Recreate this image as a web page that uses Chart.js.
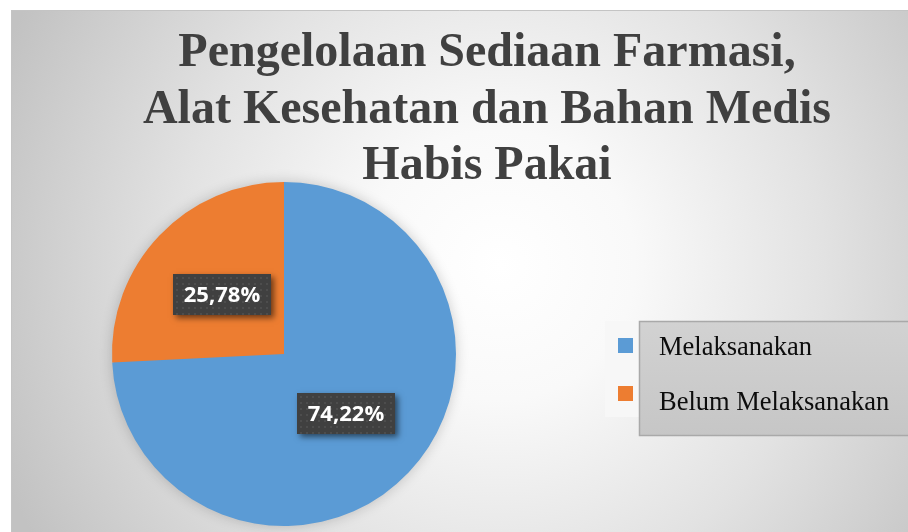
<!DOCTYPE html>
<html>
<head>
<meta charset="utf-8">
<script src="https://cdn.jsdelivr.net/npm/chart.js@4.4.1/dist/chart.umd.min.js"></script>
<style>
  html, body { margin: 0; padding: 0; background: #ffffff; overflow: hidden; }
  #c { display: block; }
</style>
</head>
<body>
<canvas id="c" width="908" height="532"></canvas>
<script>
const titleLines = ['Pengelolaan Sediaan Farmasi,', 'Alat Kesehatan dan Bahan Medis', 'Habis Pakai'];
const categories = ['Melaksanakan', 'Belum Melaksanakan'];
const values = [74.22, 25.78];
const colors = ['#5B9BD5', '#ED7D31'];

const backgroundPlugin = {
  id: 'bg',
  beforeDraw(chart) {
    const ctx = chart.ctx;
    ctx.save();
    ctx.fillStyle = '#ffffff';
    ctx.fillRect(0, 0, chart.width, chart.height);
    const g = ctx.createRadialGradient(500, 265, 0, 500, 265, 540);
    g.addColorStop(0, '#ffffff');
    g.addColorStop(0.25, '#f9f9f9');
    g.addColorStop(0.6, '#e2e2e2');
    g.addColorStop(1, '#c2c2c2');
    ctx.fillStyle = g;
    ctx.fillRect(11, 10, chart.width - 11, chart.height - 10);
    ctx.strokeStyle = '#c4c4c4';
    ctx.lineWidth = 1;
    ctx.beginPath();
    ctx.moveTo(11.5, chart.height);
    ctx.lineTo(11.5, 10.5);
    ctx.lineTo(chart.width, 10.5);
    ctx.stroke();
    // title
    ctx.fillStyle = '#404040';
    ctx.font = 'bold 48px "Liberation Serif", "Times New Roman", serif';
    ctx.textAlign = 'center';
    ctx.textBaseline = 'alphabetic';
    const baselines = [66, 123, 179];
    titleLines.forEach((t, i) => ctx.fillText(t, 487, baselines[i]));
    ctx.restore();
  },
  beforeDatasetsDraw(chart) {
    const arc = chart.getDatasetMeta(0).data[0];
    if (!arc) return;
    const ctx = chart.ctx;
    ctx.save();
    ctx.shadowColor = 'rgba(0,0,0,0.22)';
    ctx.shadowBlur = 14;
    ctx.fillStyle = '#5B9BD5';
    ctx.beginPath();
    ctx.arc(arc.x, arc.y, arc.outerRadius - 1, 0, Math.PI * 2);
    ctx.fill();
    ctx.restore();
  }
};

const labelPlugin = {
  id: 'pctLabels',
  afterDatasetsDraw(chart) {
    const ctx = chart.ctx;
    const meta = chart.getDatasetMeta(0);
    const vals = chart.data.datasets[0].data;
    meta.data.forEach((el, i) => {
      const p = el.tooltipPosition();
      const w = 98, h = 41;
      const x0 = Math.round(p.x - w / 2), y0 = Math.round(p.y - h / 2);
      ctx.save();
      ctx.shadowColor = 'rgba(0,0,0,0.55)';
      ctx.shadowBlur = 6;
      ctx.shadowOffsetX = 3;
      ctx.shadowOffsetY = 3;
      ctx.fillStyle = '#404040';
      ctx.fillRect(x0, y0, w, h);
      ctx.restore();
      ctx.save();
      ctx.fillStyle = '#4d4d4d';
      for (let yy = y0 + 3; yy < y0 + h - 1; yy += 6) {
        for (let xx = x0 + 3; xx < x0 + w - 1; xx += 6) {
          ctx.fillRect(xx, yy, 2, 2);
        }
      }
      ctx.fillStyle = '#ffffff';
      ctx.font = 'bold 22px "Open Sans", "DejaVu Sans", sans-serif';
      ctx.textAlign = 'center';
      ctx.textBaseline = 'middle';
      const txt = vals[i].toFixed(2).replace('.', ',') + '%';
      ctx.fillText(txt, x0 + w / 2, y0 + h / 2 + 1);
      ctx.restore();
    });
  }
};

const legendPlugin = {
  id: 'customLegend',
  afterDraw(chart) {
    const ctx = chart.ctx;
    ctx.save();
    ctx.fillStyle = '#f7f7f7';
    ctx.fillRect(605, 321, 36, 96);
    const g = ctx.createLinearGradient(0, 321, 0, 436);
    g.addColorStop(0, '#d2d2d2');
    g.addColorStop(1, '#c6c6c6');
    ctx.fillStyle = g;
    ctx.fillRect(639, 321, 280, 115);
    ctx.strokeStyle = '#a9a9a9';
    ctx.lineWidth = 1.5;
    ctx.strokeRect(639.5, 321.5, 290, 114);
    const labels = chart.data.labels;
    const bg = chart.data.datasets[0].backgroundColor;
    ctx.font = '26.5px "Liberation Serif", "Times New Roman", serif';
    ctx.textAlign = 'left';
    ctx.textBaseline = 'alphabetic';
    labels.forEach((lab, i) => {
      const y = 338 + i * 48;
      ctx.fillStyle = bg[i];
      ctx.fillRect(618, y, 15, 15);
      ctx.fillStyle = '#0d0d0d';
      ctx.fillText(lab, 659, 355 + i * 55);
    });
    ctx.restore();
  }
};

new Chart(document.getElementById('c'), {
  type: 'pie',
  data: {
    labels: categories,
    datasets: [{
      data: values,
      backgroundColor: colors,
      borderWidth: 0,
      hoverBorderWidth: 0,
      hoverOffset: 0
    }]
  },
  options: {
    responsive: false,
    animation: false,
    events: [],
    layout: { padding: { left: 112, right: 452, top: 182, bottom: 6 } },
    plugins: {
      legend: { display: false },
      title: { display: false },
      tooltip: { enabled: false }
    }
  },
  plugins: [backgroundPlugin, labelPlugin, legendPlugin]
});
</script>
</body>
</html>
